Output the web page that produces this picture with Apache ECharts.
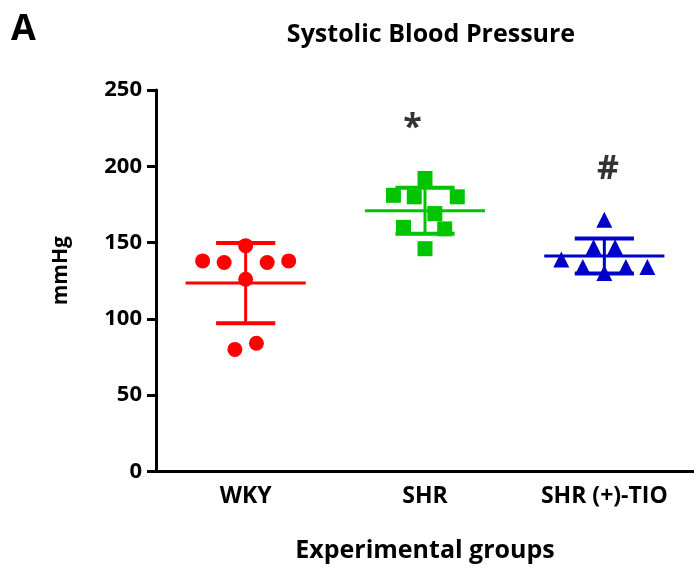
<!DOCTYPE html>
<html>
<head>
<meta charset="utf-8">
<script src="https://cdn.jsdelivr.net/npm/echarts@6/dist/echarts.min.js"></script>
<style>
  html, body { margin: 0; padding: 0; background: #ffffff; }
  #chart { width: 694px; height: 570px; }
</style>
</head>
<body>
<div id="chart"></div>
<script>
// Systolic blood pressure per animal, grouped by experimental group (mmHg)
const groups = ['WKY', 'SHR', 'SHR (+)-TIO'];
const yTicks = [0, 50, 100, 150, 200, 250];

const wkyValues = [138, 137, 137, 138, 148, 126, 80, 84];
const wkyJitter = [-0.24, -0.12, 0.12, 0.24, 0, 0, -0.06, 0.06];

const shrValues = [192, 181, 180, 180, 169, 160, 159, 146];
const shrJitter = [0, -0.176, -0.06, 0.18, 0.055, -0.12, 0.11, 0];

const tioValues = [165, 147, 147, 139, 134, 134, 134, 130];
const tioJitter = [0, -0.06, 0.06, -0.24, -0.12, 0.12, 0.24, 0];

// significance marks: group index, x shift, y value, text
const markGroup = [1, 2];
const markShift = [-0.07, 0.02];
const markValue = [225, 198];
const markText = ['*', '#'];

const colors = ['#ff0000', '#00c400', '#0000c8'];
const symbols = ['circle', 'rect', 'triangle'];
const FONT = 'Open Sans';

function mean(a) { return a.reduce((s, v) => s + v, 0) / a.length; }
function sd(a) {
  const m = mean(a);
  return Math.sqrt(a.reduce((s, v) => s + (v - m) * (v - m), 0) / (a.length - 1));
}

const allValues = [wkyValues, shrValues, tioValues];
const allJitter = [wkyJitter, shrJitter, tioJitter];

const pointSeries = allValues.map((vals, g) => ({
  type: 'scatter',
  xAxisIndex: 1,
  yAxisIndex: 0,
  symbol: symbols[g],
  symbolSize: g === 2 ? 16 : 15,
  itemStyle: { color: colors[g], opacity: 1 },
  data: vals.map((v, i) => [g + allJitter[g][i], v]),
  z: 3
}));

const summary = allValues.map((vals, g) => [g, mean(vals), sd(vals)]);

// mean line with SD whiskers and caps
const errorSeries = {
  type: 'custom',
  xAxisIndex: 1,
  yAxisIndex: 0,
  data: summary,
  z: 4,
  renderItem: function (params, api) {
    const x = api.value(0), m = api.value(1), s = api.value(2);
    const col = colors[params.dataIndex];
    const line = (x1, y1, x2, y2, w) => {
      const a = api.coord([x1, y1]);
      const b = api.coord([x2, y2]);
      return {
        type: 'line',
        shape: { x1: a[0], y1: a[1], x2: b[0], y2: b[1] },
        style: { stroke: col, lineWidth: w }
      };
    };
    return {
      type: 'group',
      children: [
        line(x - 0.335, m, x + 0.335, m, 3),
        line(x, m - s, x, m + s, 3),
        line(x - 0.165, m + s, x + 0.165, m + s, 4),
        line(x - 0.165, m - s, x + 0.165, m - s, 4)
      ]
    };
  }
};

const markSeries = {
  type: 'scatter',
  xAxisIndex: 1,
  yAxisIndex: 0,
  symbolSize: 0,
  silent: true,
  data: markGroup.map((g, i) => ({ value: [g + markShift[i], markValue[i]], name: markText[i] })),
  label: {
    show: true,
    position: 'inside',
    formatter: p => p.name,
    fontFamily: FONT,
    fontWeight: 'bold',
    fontSize: 34,
    color: '#000'
  }
};

const chart = echarts.init(document.getElementById('chart'), null, { renderer: 'canvas' });
chart.setOption({
  animation: false,
  backgroundColor: '#ffffff',
  title: {
    text: 'Systolic Blood Pressure',
    left: 426,
    top: 17,
    textAlign: 'center',
    textStyle: { fontFamily: FONT, fontWeight: 'bold', fontSize: 25, color: '#000' }
  },
  graphic: [{
    type: 'text',
    left: 11,
    top: 12,
    style: { text: 'A', fontFamily: FONT, fontWeight: 'bold', fontSize: 36, fill: '#000' }
  }],
  grid: { left: 156, right: -8, top: 90, bottom: 98.5, containLabel: false },
  xAxis: [{
    type: 'category',
    data: groups,
    boundaryGap: true,
    axisLine: { lineStyle: { color: '#000', width: 3 } },
    axisTick: { alignWithLabel: true, length: 9, lineStyle: { color: '#000', width: 3 } },
    axisLabel: { fontFamily: FONT, fontWeight: 'bold', fontSize: 23, color: '#000', margin: 13 },
    name: 'Experimental groups',
    nameLocation: 'middle',
    nameGap: 67,
    nameTextStyle: { fontFamily: FONT, fontWeight: 'bold', fontSize: 25, color: '#000' }
  }, {
    type: 'value',
    show: false,
    min: -0.5,
    max: 2.5
  }],
  yAxis: {
    type: 'value',
    min: yTicks[0],
    max: yTicks[yTicks.length - 1],
    interval: yTicks[1] - yTicks[0],
    splitLine: { show: false },
    axisLine: { show: true, onZero: false, lineStyle: { color: '#000', width: 3 } },
    axisTick: { show: true, length: 9, lineStyle: { color: '#000', width: 3 } },
    axisLabel: { fontFamily: FONT, fontWeight: 'bold', fontSize: 22, color: '#000', margin: 14 },
    name: 'mmHg',
    nameLocation: 'middle',
    nameGap: 84,
    nameTextStyle: { fontFamily: FONT, fontWeight: 'bold', fontSize: 21, color: '#000', padding: [0, 0, 0, 20] }
  },
  series: [...pointSeries, errorSeries, markSeries]
});
</script>
</body>
</html>
